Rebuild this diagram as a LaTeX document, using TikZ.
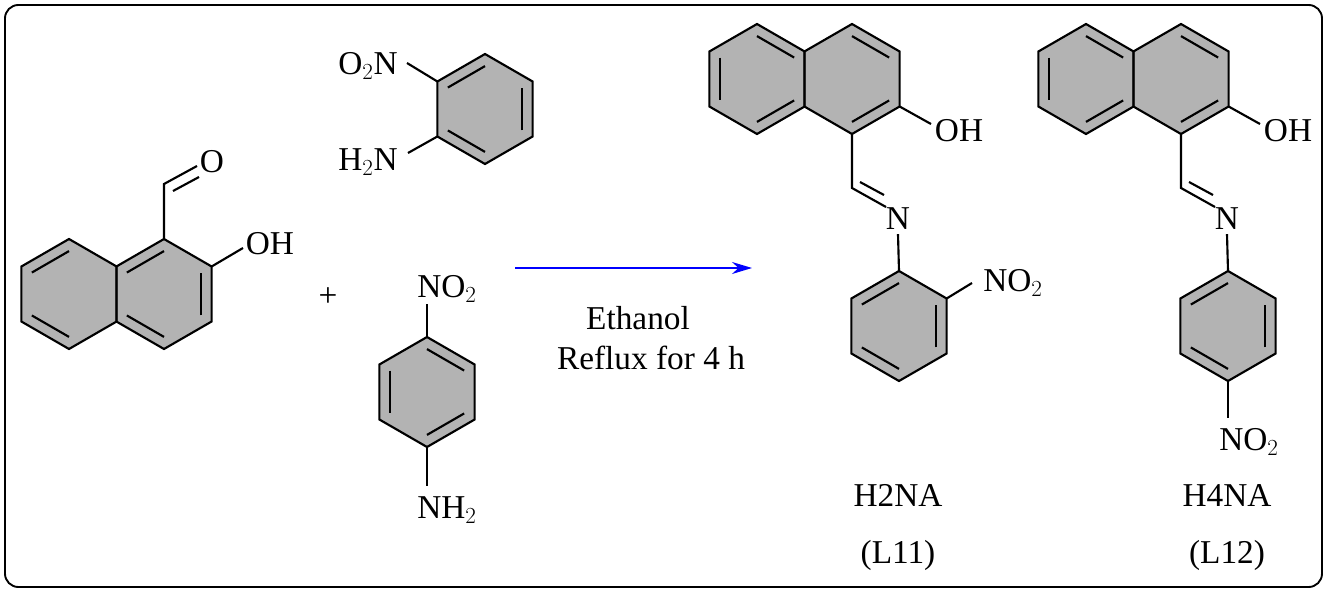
\documentclass[tikz,border=0pt]{standalone}
\usepackage{fontspec}
\setmainfont{Liberation Serif}
\usetikzlibrary{calc,arrows.meta}
\definecolor{ringgray}{HTML}{B3B3B3}
\newcommand\hexa[3]{%
  \coordinate (#1c) at (#2,#3);
  \foreach \i/\a in {1/90,2/150,3/210,4/270,5/330,6/30}
    \coordinate (#1\i) at ({#2+55*cos(\a)},{#3-55*sin(\a)});}
\newcommand\ringfill[1]{\fill[ringgray] (#11)--(#12)--(#13)--(#14)--(#15)--(#16)--cycle;}
\newcommand\ringdraw[1]{\draw[bond] (#11)--(#12)--(#13)--(#14)--(#15)--(#16)--cycle;}
\newcommand\dbl[3]{\draw[bond] ($(#1c)!0.78!(#1#2)$) -- ($(#1c)!0.78!(#1#3)$);}
\begin{document}
\begin{tikzpicture}[x=0.75pt,y=-0.75pt,
  bond/.style={line width=1.6pt,line join=miter},
  lbl/.style={inner sep=0pt,font=\fontsize{25}{30}\selectfont}]
\useasboundingbox (0,0) rectangle (1328,592);
\draw[line width=1.4pt,rounded corners=10pt] (5,5) rectangle (1322,587);
% reactant naphthaldehyde
\hexa{a}{69}{294}\hexa{b}{164}{294}
\ringfill{a}\ringfill{b}\ringdraw{a}\ringdraw{b}
\dbl{a}{1}{2}\dbl{a}{3}{4}\dbl{b}{1}{2}\dbl{b}{5}{6}\dbl{b}{3}{4}
\coordinate (cho) at (164,184);
\node[lbl] (o1) at (212,162) {O};
\node[lbl] (oh1) at (270,244) {OH};
\draw[bond] (b1)--(cho)--(197,166);
\draw[bond] (173,191)--(199,177);
\draw[bond] (b6)--(243,248);
\node[lbl] (plus) at (328,297) {+};
% ortho nitroaniline
\hexa{c}{485}{109}
\ringfill{c}\ringdraw{c}
\dbl{c}{1}{2}\dbl{c}{5}{6}\dbl{c}{3}{4}
\node[lbl] (o2n) at (368,66) {O$_2$N};
\node[lbl] (h2n) at (368,162) {H$_2$N};
\draw[bond] (c2)--(407,63);
\draw[bond] (c3)--(408,153);
% para nitroaniline
\hexa{d}{427}{392}
\ringfill{d}\ringdraw{d}
\dbl{d}{1}{6}\dbl{d}{2}{3}\dbl{d}{4}{5}
\node[lbl] (no2a) at (447,289) {NO$_2$};
\node[lbl] (nh2a) at (447,510) {NH$_2$};
\draw[bond] (d1)--(427,304);
\draw[bond] (d4)--(427,486);
% arrow
\coordinate (as) at (515,268);
\coordinate (ae) at (752,268);
\draw[blue,line width=1.3pt,-{Stealth[length=15pt,width=9pt]}] (as)--(ae);
\node[lbl] (eth) at (638,318) {Ethanol};
\node[lbl] (refl) at (651,358) {Reflux for 4 h};
% products
\foreach \dx/\p/\nm/\lab/\para in {0/p/H2NA/L11/0,329/q/H4NA/L12/1}{
  \hexa{\p l}{757+\dx}{79}\hexa{\p r}{852+\dx}{79}\hexa{\p s}{899+\dx}{326}
  \ringfill{\p l}\ringfill{\p r}\ringfill{\p s}
  \ringdraw{\p l}\ringdraw{\p r}\ringdraw{\p s}
  \dbl{\p l}{1}{6}\dbl{\p l}{2}{3}\dbl{\p l}{4}{5}
  \dbl{\p r}{1}{6}\dbl{\p r}{4}{5}
  \dbl{\p s}{1}{2}\dbl{\p s}{5}{6}\dbl{\p s}{3}{4}
  \node[lbl] (\p oh) at (959+\dx,131) {OH};
  \draw[bond] (\p r5)--(931+\dx,124);
  \node[lbl] (\p n) at (898+\dx,219) {N};
  \coordinate (\p ch) at (852+\dx,188);
  \draw[bond] (\p r4)--(\p ch)--(886+\dx,207);
  \draw[bond] (860+\dx,182)--(884+\dx,195);
  \draw[bond] (\p n.south)++(0,4)--(\p s1);
  \node[lbl] (\p name) at (898+\dx,495) {\nm};
  \node[lbl] (\p lab) at (898+\dx,555) {(\lab)};
}
\node[lbl] (pno2) at (1013,283) {NO$_2$};
\draw[bond] (ps6)--(972,283);
\node[lbl] (qno2) at (1249,442) {NO$_2$};
\draw[bond] (qs4)--(1228,418);
\end{tikzpicture}
\end{document}
